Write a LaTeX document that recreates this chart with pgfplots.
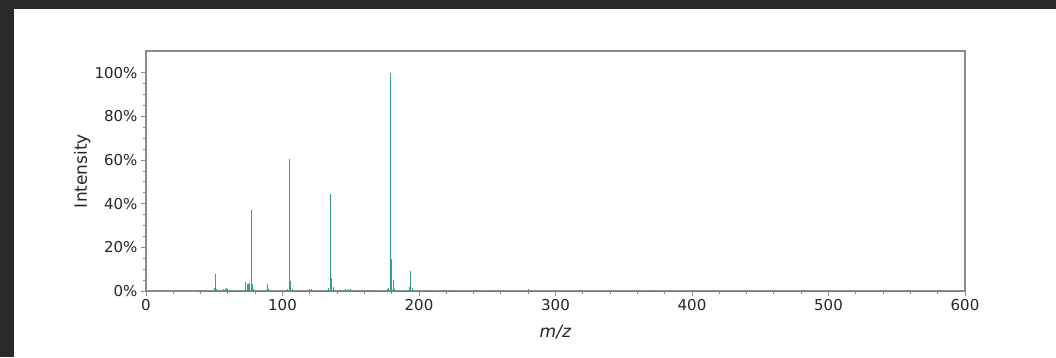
\documentclass[border=0pt]{standalone}
\usepackage{pgfplots}
\pgfplotsset{compat=1.18}
\usepackage{fontspec}
\setmainfont{DejaVu Sans}
\definecolor{bgdark}{HTML}{2A2A2A}
\definecolor{spec}{HTML}{379D94}
\definecolor{spine}{HTML}{8C8C8C}
\definecolor{ticktext}{HTML}{262626}
\pgfplotstableread{
mz int
39 0.5
41 0.4
50 1.5
51 7.6
52 0.8
55 0.5
57 1.0
58 0.8
59 1.5
60 0.8
63 0.6
65 0.5
69 0.4
73 4.0
74 3.4
75 3.0
76 3.5
77 37.2
78 3.3
79 0.8
89 3.2
90 0.8
91 0.5
103 0.6
104 1.0
105 60.6
106 4.6
107 0.8
118 0.4
120 1.0
121 0.8
133 0.6
134 1.2
135 44.6
136 6.1
137 2.0
146 0.8
148 0.8
150 0.7
151 0.6
163 0.5
165 0.6
177 0.8
178 1.5
179 100
180 14.5
181 5.2
182 1.0
192 0.6
193 1.7
194 9.2
195 1.5
196 0.5
206 0.5
222 0.3
252 0.3
280 0.8
368 0.4
}\spectrum
\begin{document}
\begin{tikzpicture}[x=1pt,y=1pt]
\fill[bgdark] (0,0) rectangle (1056,357);
\fill[white] (14,0) rectangle (1056,348);
\begin{axis}[
  at={(146pt,66pt)}, anchor=south west,
  scale only axis, width=819pt, height=240pt,
  xmin=0, xmax=600, ymin=0, ymax=110,
  axis line style={spine, line width=1.3pt},
  every tick/.style={spine, line width=1pt},
  major tick length=5pt, minor tick length=3pt,
  tick align=outside, tick pos=left,
  xtick={0,100,...,600}, minor x tick num=4,
  ytick={0,20,...,100},
  yticklabels={0\%,20\%,40\%,60\%,80\%,100\%},
  minor y tick num=3,
  /pgf/number format/assume math mode=true,
  ticklabel style={font=\fontsize{15}{18}\selectfont, text=ticktext},
  label style={font=\fontsize{17}{20}\selectfont, text=ticktext},
  xlabel={\textit{m/z}},
  ylabel={Intensity},
  xlabel style={at={(axis description cs:0.5,-0.170)}, anchor=center},
  ylabel style={at={(axis description cs:-0.078,0.5)}, anchor=center},
  clip=true,
]
\addplot[spec, line width=0.8pt] coordinates {(38,0) (600,0)};
\addplot[spec, ycomb, line width=1.0pt] table[x=mz, y=int] {\spectrum};
\end{axis}
\end{tikzpicture}
\end{document}
